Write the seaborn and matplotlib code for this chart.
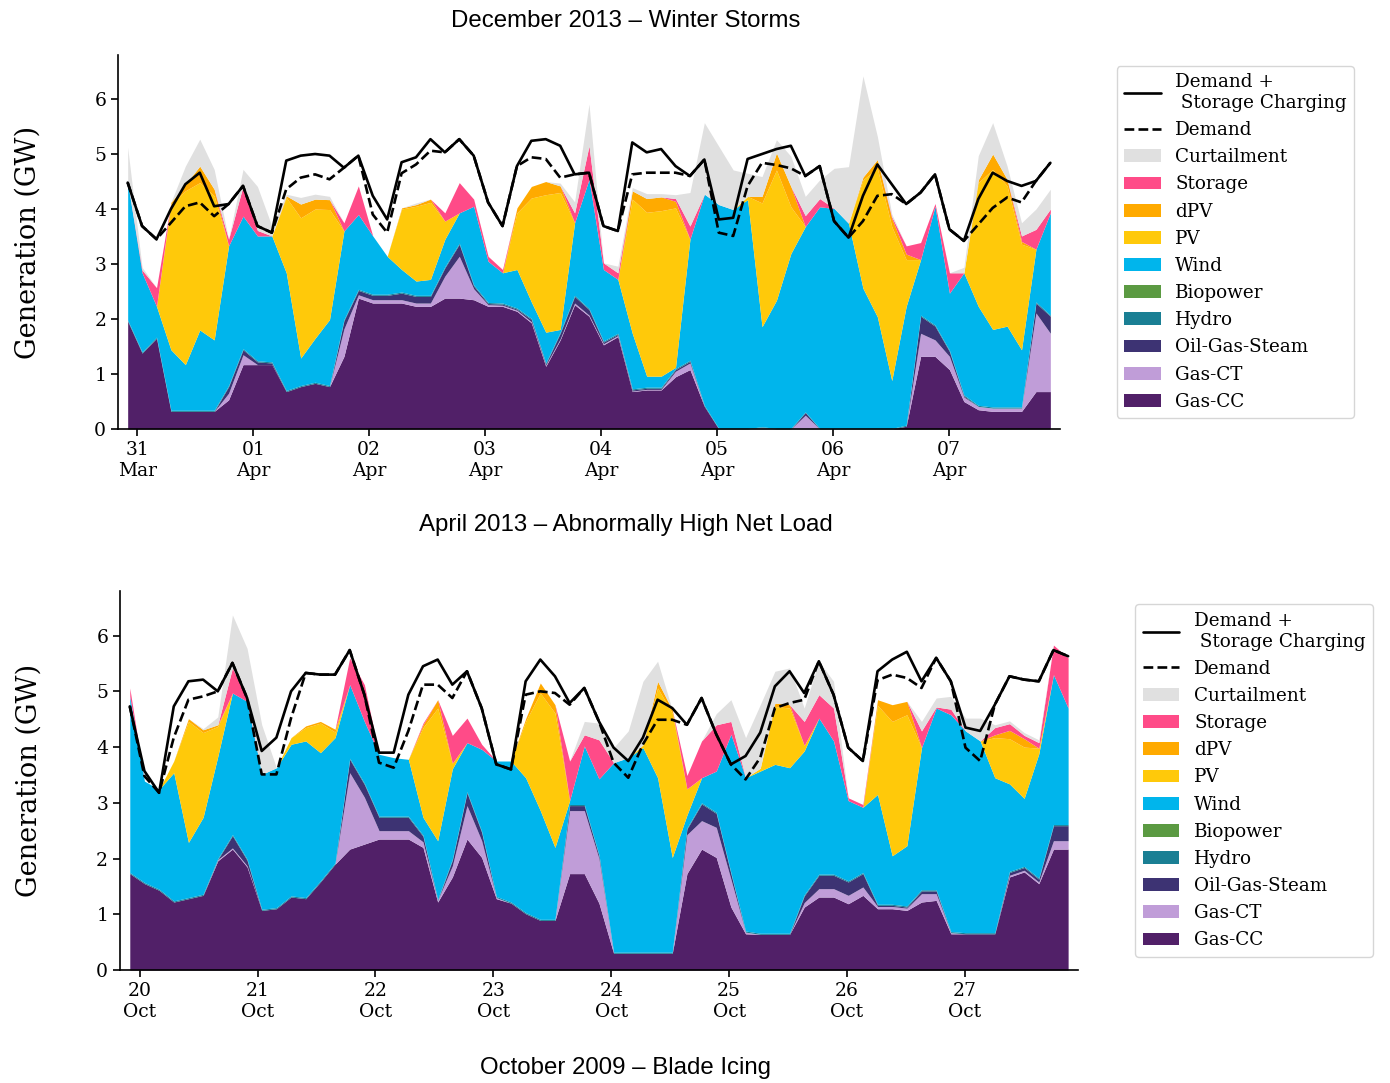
import numpy as np
import pandas as pd
import matplotlib
matplotlib.use("Agg")
import matplotlib.pyplot as plt
import matplotlib.dates as mdates
from matplotlib.patches import Patch
from matplotlib.lines import Line2D
import seaborn as sns

# ----------------------------
# DATA  (GW at ~3 h steps)
# ----------------------------
N_PTS = 65
apr_start, apr_end = "2013-03-30 22:00", "2013-04-07 21:00"
oct_start, oct_end = "2009-10-19 22:00", "2009-10-27 21:00"

apr_gas_cc = [1.96, 1.38, 1.65, 0.32, 0.32, 0.32, 0.32, 0.53, 1.17, 1.17,
              1.17, 0.68, 0.77, 0.83, 0.77, 1.32, 2.38, 2.29, 2.29, 2.29,
              2.23, 2.23, 2.38, 2.38, 2.35, 2.23, 2.23, 2.14, 1.93, 1.14,
              1.62, 2.26, 2.05, 1.53, 1.68, 0.68, 0.71, 0.71, 0.95, 1.08,
              0.41, 0.00, 0.00, 0.00, 0.00, 0.00, 0.00, 0.00, 0.00, 0.00,
              0.00, 0.00, 0.00, 0.00, 0.05, 1.32, 1.32, 1.08, 0.50, 0.35,
              0.32, 0.32, 0.32, 0.68, 0.68]
apr_gas_ct = [0.00, 0.00, 0.00, 0.00, 0.00, 0.00, 0.00, 0.12, 0.18, 0.00,
              0.00, 0.00, 0.00, 0.00, 0.00, 0.50, 0.06, 0.06, 0.06, 0.06,
              0.06, 0.06, 0.40, 0.76, 0.20, 0.03, 0.02, 0.02, 0.02, 0.02,
              0.02, 0.03, 0.02, 0.02, 0.02, 0.01, 0.01, 0.01, 0.10, 0.12,
              0.00, 0.00, 0.00, 0.00, 0.03, 0.00, 0.00, 0.25, 0.00, 0.00,
              0.00, 0.00, 0.00, 0.00, 0.00, 0.42, 0.30, 0.24, 0.08, 0.06,
              0.06, 0.06, 0.06, 1.43, 1.06]
apr_ogs = [0.00, 0.00, 0.00, 0.00, 0.00, 0.00, 0.00, 0.12, 0.09, 0.05,
           0.03, 0.00, 0.00, 0.00, 0.00, 0.15, 0.08, 0.08, 0.08, 0.12,
           0.12, 0.12, 0.15, 0.22, 0.05, 0.02, 0.02, 0.02, 0.04, 0.02,
           0.10, 0.12, 0.10, 0.03, 0.02, 0.02, 0.02, 0.02, 0.03, 0.03,
           0.00, 0.00, 0.00, 0.00, 0.00, 0.00, 0.00, 0.05, 0.00, 0.00,
           0.00, 0.00, 0.00, 0.00, 0.00, 0.31, 0.25, 0.09, 0.02, 0.00,
           0.00, 0.00, 0.00, 0.18, 0.31]
apr_hydro = [0.02, 0.02, 0.02, 0.02, 0.02, 0.02, 0.02, 0.02, 0.02, 0.02,
             0.02, 0.02, 0.02, 0.02, 0.02, 0.02, 0.02, 0.02, 0.02, 0.02,
             0.02, 0.02, 0.02, 0.02, 0.02, 0.02, 0.02, 0.02, 0.02, 0.02,
             0.02, 0.02, 0.02, 0.02, 0.02, 0.02, 0.02, 0.02, 0.02, 0.02,
             0.02, 0.01, 0.01, 0.01, 0.01, 0.01, 0.01, 0.01, 0.01, 0.01,
             0.01, 0.01, 0.01, 0.01, 0.02, 0.02, 0.02, 0.02, 0.02, 0.02,
             0.02, 0.02, 0.02, 0.02, 0.02]
apr_bio = [0.0, 0.0, 0.0, 0.0, 0.0, 0.0, 0.0, 0.0, 0.0, 0.0, 0.0, 0.0, 0.0,
           0.0, 0.0, 0.0, 0.0, 0.0, 0.0, 0.0, 0.0, 0.0, 0.0, 0.0, 0.0, 0.0,
           0.0, 0.0, 0.0, 0.0, 0.0, 0.0, 0.0, 0.0, 0.0, 0.0, 0.0, 0.0, 0.0,
           0.0, 0.0, 0.0, 0.0, 0.0, 0.0, 0.0, 0.0, 0.0, 0.0, 0.0, 0.0, 0.0,
           0.0, 0.0, 0.0, 0.0, 0.0, 0.0, 0.0, 0.0, 0.0, 0.0, 0.0, 0.0, 0.0]
apr_wind = [2.50, 1.44, 0.56, 1.10, 0.83, 1.46, 1.28, 2.54, 2.41, 2.27,
            2.29, 2.14, 0.50, 0.80, 1.20, 1.61, 1.36, 1.06, 0.69, 0.41,
            0.26, 0.29, 0.50, 0.55, 1.43, 0.75, 0.55, 0.70, 0.30, 0.56,
            0.05, 1.32, 2.35, 1.30, 0.98, 1.01, 0.20, 0.20, 0.02, 2.20,
            3.84, 4.07, 3.98, 4.16, 1.82, 2.33, 3.18, 3.37, 4.03, 4.00,
            3.73, 2.55, 2.03, 0.87, 2.16, 1.01, 2.16, 1.04, 2.22, 1.80,
            1.41, 1.47, 1.04, 0.96, 1.86]
apr_pv = [0.00, 0.00, 0.00, 2.65, 3.16, 2.68, 2.62, 0.00, 0.00, 0.00,
          0.00, 1.37, 2.55, 2.35, 2.00, 0.00, 0.00, 0.00, 0.00, 1.10,
          1.36, 1.40, 0.33, 0.00, 0.00, 0.00, 0.00, 1.03, 1.89, 2.50,
          2.49, 0.00, 0.00, 0.00, 0.00, 2.44, 2.98, 3.01, 2.90, 0.00,
          0.00, 0.00, 0.00, 0.06, 2.25, 2.37, 0.85, 0.00, 0.00, 0.00,
          0.00, 1.97, 2.70, 2.80, 0.85, 0.00, 0.00, 0.00, 0.00, 2.25,
          2.91, 2.55, 1.92, 0.00, 0.00]
apr_dpv = [0.00, 0.00, 0.00, 0.03, 0.12, 0.30, 0.12, 0.00, 0.00, 0.00,
           0.00, 0.03, 0.25, 0.18, 0.18, 0.00, 0.00, 0.00, 0.00, 0.02,
           0.03, 0.06, 0.00, 0.00, 0.00, 0.00, 0.00, 0.09, 0.21, 0.24,
           0.12, 0.00, 0.00, 0.00, 0.00, 0.15, 0.25, 0.25, 0.12, 0.00,
           0.00, 0.00, 0.00, 0.00, 0.12, 0.31, 0.37, 0.00, 0.00, 0.00,
           0.00, 0.05, 0.16, 0.15, 0.10, 0.00, 0.00, 0.00, 0.00, 0.05,
           0.28, 0.12, 0.05, 0.00, 0.00]
apr_storage = [0.00, 0.05, 0.34, 0.00, 0.00, 0.00, 0.00, 0.12, 0.55, 0.10,
               0.00, 0.00, 0.00, 0.00, 0.00, 0.15, 0.52, 0.00, 0.00, 0.00,
               0.00, 0.00, 0.15, 0.55, 0.13, 0.09, 0.06, 0.00, 0.00, 0.00,
               0.00, 0.18, 0.61, 0.12, 0.12, 0.00, 0.00, 0.00, 0.05, 0.24,
               0.00, 0.00, 0.00, 0.00, 0.00, 0.00, 0.00, 0.20, 0.15, 0.00,
               0.00, 0.00, 0.00, 0.03, 0.15, 0.31, 0.05, 0.37, 0.00, 0.00,
               0.00, 0.00, 0.10, 0.36, 0.07]
apr_curt = [0.64, 0.05, 0.00, 0.00, 0.33, 0.49, 0.36, 0.00, 0.30, 0.80,
            0.18, 0.03, 0.12, 0.09, 0.06, 0.00, 0.00, 0.00, 0.00, 0.00,
            0.03, 0.00, 0.00, 0.00, 0.00, 0.00, 0.00, 0.00, 0.00, 0.00,
            0.05, 0.20, 0.76, 0.00, 0.12, 0.06, 0.09, 0.06, 0.07, 0.61,
            1.30, 1.06, 0.72, 0.42, 0.36, 0.24, 0.55, 0.35, 0.34, 0.73,
            1.03, 1.84, 0.42, 0.05, 0.00, 0.00, 0.00, 0.00, 0.10, 0.44,
            0.57, 0.24, 0.24, 0.37, 0.36]
apr_demand_charging = [4.48, 3.69, 3.45, 4.00, 4.45, 4.66, 4.05, 4.09, 4.42, 3.69,
                       3.57, 4.88, 4.97, 5.00, 4.97, 4.75, 4.97, 4.24, 3.81, 4.85,
                       4.94, 5.27, 5.03, 5.27, 4.97, 4.12, 3.69, 4.78, 5.24, 5.27,
                       5.15, 4.63, 4.66, 3.69, 3.60, 5.21, 5.03, 5.09, 4.78, 4.60,
                       4.90, 3.81, 3.84, 4.91, 5.00, 5.09, 5.15, 4.60, 4.78, 3.78,
                       3.48, 4.24, 4.81, 4.45, 4.09, 4.30, 4.63, 3.63, 3.42, 4.18,
                       4.66, 4.51, 4.42, 4.51, 4.84]
apr_demand = [4.48, 3.69, 3.45, 3.75, 4.05, 4.12, 3.87, 4.09, 4.42, 3.69,
              3.57, 4.36, 4.57, 4.63, 4.54, 4.75, 4.97, 3.90, 3.57, 4.65,
              4.81, 5.06, 5.03, 5.27, 4.97, 4.12, 3.69, 4.78, 4.94, 4.91,
              4.57, 4.63, 4.66, 3.69, 3.60, 4.63, 4.66, 4.66, 4.66, 4.60,
              4.90, 3.57, 3.51, 4.42, 4.84, 4.80, 4.74, 4.60, 4.78, 3.78,
              3.48, 3.78, 4.24, 4.27, 4.09, 4.30, 4.63, 3.63, 3.42, 3.72,
              4.02, 4.21, 4.12, 4.51, 4.84]

oct_gas_cc = [1.73, 1.55, 1.43, 1.22, 1.28, 1.34, 1.96, 2.17, 1.85, 1.07,
              1.10, 1.31, 1.28, 1.58, 1.90, 2.17, 2.26, 2.35, 2.35, 2.35,
              2.20, 1.22, 1.67, 2.35, 2.02, 1.28, 1.20, 1.01, 0.89, 0.89,
              1.73, 1.73, 1.20, 0.30, 0.30, 0.30, 0.30, 0.30, 1.73, 2.17,
              2.02, 1.13, 0.65, 0.64, 0.64, 0.64, 1.13, 1.31, 1.31, 1.19,
              1.34, 1.10, 1.10, 1.07, 1.22, 1.25, 0.65, 0.65, 0.65, 0.65,
              1.67, 1.76, 1.55, 2.17, 2.17]
oct_gas_ct = [0.00, 0.00, 0.00, 0.00, 0.00, 0.00, 0.02, 0.02, 0.02, 0.00,
              0.00, 0.00, 0.00, 0.00, 0.00, 1.37, 0.84, 0.15, 0.15, 0.15,
              0.10, 0.03, 0.20, 0.60, 0.30, 0.02, 0.00, 0.00, 0.00, 0.00,
              1.13, 1.13, 0.80, 0.00, 0.00, 0.00, 0.00, 0.00, 0.70, 0.51,
              0.54, 0.50, 0.03, 0.00, 0.00, 0.00, 0.08, 0.15, 0.15, 0.15,
              0.15, 0.04, 0.04, 0.04, 0.15, 0.12, 0.02, 0.00, 0.00, 0.00,
              0.03, 0.03, 0.03, 0.15, 0.15]
oct_ogs = [0.00, 0.00, 0.00, 0.00, 0.00, 0.00, 0.00, 0.22, 0.10, 0.00,
           0.00, 0.00, 0.00, 0.00, 0.00, 0.24, 0.23, 0.24, 0.24, 0.24,
           0.10, 0.00, 0.10, 0.23, 0.15, 0.00, 0.00, 0.00, 0.00, 0.00,
           0.09, 0.09, 0.05, 0.00, 0.00, 0.00, 0.00, 0.00, 0.10, 0.30,
           0.25, 0.10, 0.00, 0.00, 0.00, 0.00, 0.12, 0.24, 0.24, 0.24,
           0.24, 0.02, 0.02, 0.02, 0.05, 0.05, 0.00, 0.00, 0.00, 0.00,
           0.05, 0.05, 0.05, 0.27, 0.27]
oct_hydro = [0.02, 0.02, 0.02, 0.02, 0.02, 0.02, 0.02, 0.02, 0.02, 0.02,
             0.02, 0.02, 0.02, 0.02, 0.02, 0.02, 0.02, 0.02, 0.02, 0.02,
             0.02, 0.02, 0.02, 0.02, 0.02, 0.02, 0.02, 0.02, 0.02, 0.02,
             0.02, 0.02, 0.02, 0.02, 0.02, 0.02, 0.02, 0.02, 0.02, 0.02,
             0.02, 0.02, 0.02, 0.02, 0.02, 0.02, 0.02, 0.02, 0.02, 0.02,
             0.02, 0.02, 0.02, 0.02, 0.02, 0.02, 0.02, 0.02, 0.02, 0.02,
             0.02, 0.02, 0.02, 0.02, 0.02]
oct_bio = [0.0, 0.0, 0.0, 0.0, 0.0, 0.0, 0.0, 0.0, 0.0, 0.0, 0.0, 0.0, 0.0,
           0.0, 0.0, 0.0, 0.0, 0.0, 0.0, 0.0, 0.0, 0.0, 0.0, 0.0, 0.0, 0.0,
           0.0, 0.0, 0.0, 0.0, 0.0, 0.0, 0.0, 0.0, 0.0, 0.0, 0.0, 0.0, 0.0,
           0.0, 0.0, 0.0, 0.0, 0.0, 0.0, 0.0, 0.0, 0.0, 0.0, 0.0, 0.0, 0.0,
           0.0, 0.0, 0.0, 0.0, 0.0, 0.0, 0.0, 0.0, 0.0, 0.0, 0.0, 0.0, 0.0]
oct_wind = [3.16, 1.82, 1.79, 2.30, 0.99, 1.38, 1.83, 2.54, 2.83, 2.42,
            2.51, 2.72, 2.81, 2.30, 2.25, 1.32, 1.11, 1.11, 1.05, 1.02,
            0.32, 1.05, 1.62, 0.88, 1.47, 2.43, 2.53, 2.42, 1.95, 1.29,
            0.07, 1.05, 1.36, 3.40, 3.49, 3.67, 3.13, 1.70, 0.23, 0.45,
            0.74, 2.48, 2.75, 2.91, 3.03, 2.97, 2.58, 2.80, 2.39, 1.44,
            1.17, 1.97, 0.87, 1.08, 2.55, 3.26, 3.89, 3.62, 3.44, 2.78,
            1.57, 1.22, 2.23, 2.69, 2.09]
oct_pv = [0.00, 0.00, 0.00, 0.21, 2.17, 1.52, 0.54, 0.00, 0.00, 0.00,
          0.00, 0.12, 0.24, 0.53, 0.10, 0.00, 0.00, 0.00, 0.00, 0.00,
          1.61, 2.38, 0.10, 0.00, 0.00, 0.00, 0.00, 1.01, 2.11, 2.41,
          0.00, 0.00, 0.00, 0.00, 0.00, 0.05, 1.61, 2.59, 0.47, 0.00,
          0.00, 0.00, 0.00, 0.05, 1.04, 1.07, 0.10, 0.00, 0.00, 0.00,
          0.00, 1.60, 2.41, 2.35, 0.00, 0.00, 0.00, 0.00, 0.00, 0.72,
          0.81, 0.92, 0.10, 0.00, 0.00]
oct_dpv = [0.00, 0.00, 0.00, 0.00, 0.05, 0.05, 0.03, 0.00, 0.00, 0.00,
           0.00, 0.00, 0.03, 0.03, 0.05, 0.00, 0.00, 0.00, 0.00, 0.00,
           0.05, 0.15, 0.00, 0.00, 0.00, 0.00, 0.00, 0.05, 0.18, 0.15,
           0.00, 0.00, 0.00, 0.00, 0.00, 0.00, 0.12, 0.06, 0.00, 0.00,
           0.00, 0.00, 0.00, 0.00, 0.06, 0.06, 0.00, 0.00, 0.00, 0.00,
           0.00, 0.10, 0.30, 0.24, 0.00, 0.00, 0.00, 0.00, 0.00, 0.05,
           0.15, 0.15, 0.00, 0.00, 0.00]
oct_storage = [0.15, 0.00, 0.00, 0.00, 0.00, 0.00, 0.00, 0.45, 0.05, 0.00,
               0.00, 0.00, 0.00, 0.00, 0.00, 0.48, 0.66, 0.00, 0.00, 0.00,
               0.03, 0.00, 0.50, 0.44, 0.09, 0.00, 0.00, 0.00, 0.00, 0.00,
               0.71, 0.20, 0.70, 0.00, 0.00, 0.00, 0.00, 0.00, 0.24, 0.66,
               0.83, 0.23, 0.00, 0.00, 0.00, 0.00, 0.43, 0.42, 0.59, 0.05,
               0.05, 0.00, 0.00, 0.00, 0.30, 0.02, 0.10, 0.00, 0.00, 0.13,
               0.12, 0.06, 0.10, 0.53, 0.90]
oct_curt = [0.00, 0.00, 0.00, 0.00, 0.00, 0.02, 0.14, 0.95, 0.90, 0.89,
            0.00, 0.00, 0.00, 0.00, 0.00, 0.00, 0.00, 0.00, 0.00, 0.00,
            0.00, 0.00, 0.00, 0.00, 0.00, 0.00, 0.00, 0.00, 0.00, 0.00,
            0.00, 0.24, 0.30, 0.27, 0.48, 1.14, 0.36, 0.00, 0.00, 0.00,
            0.20, 0.39, 0.72, 1.14, 0.57, 0.66, 0.24, 0.60, 0.48, 0.00,
            0.00, 0.00, 0.00, 0.00, 0.17, 0.16, 0.23, 0.23, 0.41, 0.05,
            0.05, 0.05, 0.05, 0.00, 0.00]
oct_demand_charging = [4.73, 3.57, 3.18, 4.73, 5.18, 5.21, 5.00, 5.51, 4.88, 3.93,
                       4.17, 5.00, 5.33, 5.30, 5.30, 5.74, 4.94, 3.90, 3.90, 4.94,
                       5.45, 5.57, 5.12, 5.36, 4.70, 3.69, 3.60, 5.18, 5.57, 5.27,
                       4.79, 5.06, 4.46, 3.99, 3.75, 4.17, 4.85, 4.70, 4.40, 4.88,
                       4.23, 3.69, 3.84, 4.26, 5.09, 5.36, 4.97, 5.54, 4.94, 3.99,
                       3.75, 5.36, 5.57, 5.71, 5.18, 5.60, 5.18, 4.35, 4.29, 4.76,
                       5.27, 5.21, 5.18, 5.74, 5.63]
oct_demand = [4.73, 3.48, 3.18, 4.17, 4.85, 4.91, 5.00, 5.51, 4.88, 3.51,
              3.51, 4.52, 5.33, 5.30, 5.30, 5.74, 4.94, 3.72, 3.63, 4.29,
              5.12, 5.12, 4.88, 5.36, 4.70, 3.69, 3.60, 4.94, 5.00, 4.97,
              4.76, 5.06, 4.46, 3.72, 3.45, 4.05, 4.49, 4.49, 4.40, 4.88,
              4.23, 3.69, 3.42, 3.81, 4.70, 4.79, 4.85, 5.54, 4.94, 3.99,
              3.75, 5.20, 5.30, 5.24, 5.06, 5.60, 5.18, 3.99, 3.75, 4.76,
              5.27, 5.21, 5.18, 5.74, 5.63]

TECHS = ["Gas-CC", "Gas-CT", "Oil-Gas-Steam", "Hydro", "Biopower",
         "Wind", "PV", "dPV", "Storage", "Curtailment"]
COLORS = {"Gas-CC": "#512068", "Gas-CT": "#c09dd8", "Oil-Gas-Steam": "#3d3373",
          "Hydro": "#1a7f94", "Biopower": "#5b9a42", "Wind": "#00b5ec",
          "PV": "#ffc90a", "dPV": "#ffaa00", "Storage": "#ff4b88",
          "Curtailment": "#e0e0e0"}

# ----------------------------
# STYLE
# ----------------------------
sns.set_theme(style="ticks")
plt.rcParams["font.family"] = ["DejaVu Serif"]
plt.rcParams["axes.linewidth"] = 1.2
for key in ["text.color", "axes.labelcolor", "xtick.color", "ytick.color",
            "axes.edgecolor"]:
    plt.rcParams[key] = "black"


def draw_panel(ax, start, end, stack, total, demand):
    times = pd.date_range(start, end, periods=N_PTS)
    ax.stackplot(times.to_pydatetime(), *stack,
                 colors=[COLORS[t] for t in TECHS], linewidth=0)
    df = pd.DataFrame({"time": times, "total": total, "demand": demand})
    sns.lineplot(data=df, x="time", y="demand", ax=ax, color="black",
                 linewidth=1.9, linestyle="--")
    sns.lineplot(data=df, x="time", y="total", ax=ax, color="black",
                 linewidth=1.9)
    pad = pd.Timedelta(hours=2)
    ax.set_xlim(times[0] - pad, times[-1] + pad)
    ax.set_ylim(0, 6.8)
    ax.set_yticks(range(0, 7))
    ax.xaxis.set_major_locator(mdates.DayLocator())
    ax.xaxis.set_major_formatter(mdates.DateFormatter("%d\n%b"))
    ax.tick_params(labelsize=13.5, length=5, width=1.2)
    ax.set_xlabel("")
    ax.set_ylabel("Generation (GW)", fontsize=19.5)
    ax.yaxis.set_label_coords(-0.081, 0.5)
    sns.despine(ax=ax)

    handles = [Line2D([], [], color="black", lw=1.9),
               Line2D([], [], color="black", lw=1.9, linestyle="--")]
    labels = ["Demand +\n Storage Charging", "Demand"]
    for t in TECHS[::-1]:
        handles.append(Patch(facecolor=COLORS[t], edgecolor="none"))
        labels.append(t)
    ax.legend(handles, labels, loc="center left", bbox_to_anchor=(1.06, 0.5),
              borderaxespad=0, fontsize=13.2, labelspacing=0.5, frameon=True)


fig = plt.figure(figsize=(13.9, 10.83), dpi=100)
ax1 = fig.add_axes([0.0849, 0.6039, 0.6777, 0.3453])
ax2 = fig.add_axes([0.0863, 0.1043, 0.6892, 0.3500])

draw_panel(ax1, apr_start, apr_end,
           [apr_gas_cc, apr_gas_ct, apr_ogs, apr_hydro, apr_bio, apr_wind,
            apr_pv, apr_dpv, apr_storage, apr_curt],
           apr_demand_charging, apr_demand)
draw_panel(ax2, oct_start, oct_end,
           [oct_gas_cc, oct_gas_ct, oct_ogs, oct_hydro, oct_bio, oct_wind,
            oct_pv, oct_dpv, oct_storage, oct_curt],
           oct_demand_charging, oct_demand)

title_kw = dict(ha="center", va="center", fontsize=17.3,
                family="Liberation Sans", color="black")
fig.text(0.45, 1 - 21 / 1083, "December 2013 – Winter Storms", **title_kw)
fig.text(0.45, 1 - 525 / 1083, "April 2013 – Abnormally High Net Load", **title_kw)
fig.text(0.45, 1 - 1068 / 1083, "October 2009 – Blade Icing", **title_kw)

fig.savefig("out.png", dpi=100)
